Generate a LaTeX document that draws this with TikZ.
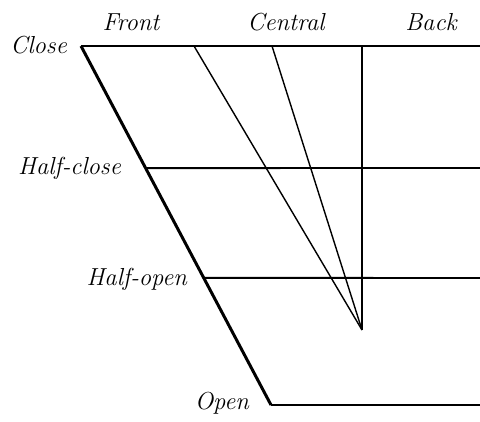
\documentclass[tikz,border=0pt]{standalone}
\usetikzlibrary{positioning,calc}
\begin{document}
\begin{tikzpicture}[x=0.02cm,y=-0.02cm,
    lbl/.style={font=\fontsize{14}{16}\selectfont\itshape, inner sep=1pt},
    edge/.style={line width=1.7pt},
    rule/.style={line width=1.1pt},
    guide/.style={line width=0.8pt},
]
\useasboundingbox (0,0) rectangle (480,422);
% corners of the chart
\coordinate (c0) at (81,46);
\coordinate (c1) at (480,46);
\coordinate (o0) at (271,405);
\coordinate (o1) at (480,405);
\coordinate (hc0) at ($(c0)!0.34!(o0)$);
\coordinate (hc1) at (480,168);
\coordinate (ho0) at ($(c0)!0.646!(o0)$);
\coordinate (ho1) at (480,278);
\coordinate (f) at (194,46);
\coordinate (m) at (272,46);
\coordinate (b) at (362,46);
\coordinate (apex) at (362,330);
% labels
\node[lbl] (front) at (131,22) {Front};
\node[lbl] (central) at (286,22) {Central};
\node[lbl] (back) at (431,22) {Back};
\node[lbl, anchor=east] (close) at (69,45) {Close};
\node[lbl, anchor=east] (halfclose) at (123,168) {Half-close};
\node[lbl, anchor=east] (halfopen) at (189,279) {Half-open};
\node[lbl, anchor=east] (open) at (251,403) {Open};
% lines
\draw[edge] (c0) -- (o0);
\draw[rule] (c0) -- (c1);
\draw[rule] (hc0) -- (hc1);
\draw[rule] (ho0) -- (ho1);
\draw[rule] (o0) -- (o1);
\draw[guide] (f) -- (apex);
\draw[guide] (m) -- (apex);
\draw[guide] (b) -- (apex);
\end{tikzpicture}
\end{document}
